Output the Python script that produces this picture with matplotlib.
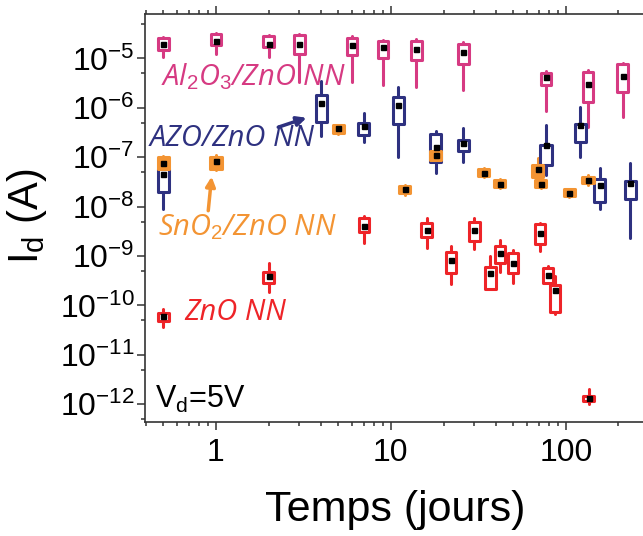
import numpy as np
import matplotlib
matplotlib.use('Agg')
import matplotlib.pyplot as plt
from matplotlib.patches import Rectangle
from matplotlib.ticker import LogLocator, FixedLocator, FuncFormatter, NullFormatter

plt.rcParams['font.family'] = ['Liberation Sans', 'DejaVu Sans']
plt.rcParams['mathtext.fontset'] = 'custom'
plt.rcParams['mathtext.rm'] = 'Liberation Sans'
plt.rcParams['mathtext.it'] = 'Open Sans:italic'

# ── data: time (days) and drain current (A) box statistics ──
t_al = [0.5, 1, 2, 3, 6, 9, 14, 26, 77, 134, 211]
al_wlo = [1.08e-5, 1.26e-5, 1.08e-5, 3.4e-6, 3.4e-6, 2.9e-6, 2.6e-6, 2.3e-6, 8.7e-7, 4.1e-7, 6.6e-7]
al_q1 = [1.47e-5, 1.86e-5, 1.67e-5, 1.26e-5, 1.17e-5, 1.0e-5, 9.2e-6, 7.7e-6, 2.9e-6, 1.32e-6, 2.1e-6]
al_mean = [2.0e-5, 2.27e-5, 2.0e-5, 2.0e-5, 1.92e-5, 1.67e-5, 1.59e-5, 1.36e-5, 4.25e-6, 3.0e-6, 4.4e-6]
al_q3 = [2.54e-5, 3.2e-5, 2.82e-5, 2.97e-5, 2.66e-5, 2.27e-5, 2.27e-5, 2.0e-5, 5.0e-6, 5.4e-6, 7.7e-6]
al_whi = [2.73e-5, 3.3e-5, 2.97e-5, 3.1e-5, 2.82e-5, 2.4e-5, 2.43e-5, 2.11e-5, 5.6e-6, 5.8e-6, 8.1e-6]

t_azo = [0.5, 4, 7, 11, 18, 26, 77, 121, 156, 234]
azo_wlo = [8.8e-9, 2.67e-7, 2.05e-7, 1.02e-7, 4.7e-8, 8.1e-8, 4.35e-8, 1.02e-7, 8.8e-9, 2.27e-9]
azo_q1 = [2.0e-8, 5.2e-7, 2.8e-7, 4.67e-7, 8.1e-8, 1.35e-7, 6.9e-8, 2.05e-7, 1.25e-8, 1.4e-8]
azo_mean = [4.55e-8, 1.26e-6, 4.26e-7, 1.17e-6, 1.63e-7, 1.9e-7, 1.76e-7, 4.47e-7, 2.72e-8, 2.95e-8]
azo_q3 = [5.9e-8, 1.81e-6, 4.97e-7, 1.63e-6, 2.94e-7, 2.22e-7, 1.76e-7, 4.67e-7, 3.56e-8, 3.33e-8]
azo_whi = [8.7e-8, 3.5e-6, 7.7e-7, 2.59e-6, 3.42e-7, 4.0e-7, 4.47e-7, 1.05e-6, 6.2e-8, 7.7e-8]

t_sn = [0.5, 1, 5, 12, 18, 34, 42, 69, 72, 105, 134]
sn_wlo = [5.6e-8, 5.5e-8, 3.0e-7, 1.75e-8, 8.0e-8, 3.9e-8, 2.35e-8, 3.6e-8, 2.35e-8, 1.6e-8, 2.8e-8]
sn_q1 = [5.9e-8, 5.9e-8, 3.12e-7, 1.85e-8, 8.7e-8, 4.14e-8, 2.45e-8, 3.9e-8, 2.45e-8, 1.63e-8, 2.95e-8]
sn_mean = [7.7e-8, 8.3e-8, 3.83e-7, 2.23e-8, 1.1e-7, 4.9e-8, 2.9e-8, 5.66e-8, 2.9e-8, 1.9e-8, 3.43e-8]
sn_q3 = [9.9e-8, 1.02e-7, 4.47e-7, 2.6e-8, 1.33e-7, 5.9e-8, 3.43e-8, 6.9e-8, 3.43e-8, 2.23e-8, 4.0e-8]
sn_whi = [1.04e-7, 1.12e-7, 4.6e-7, 2.75e-8, 1.45e-7, 6.1e-8, 3.6e-8, 9.5e-8, 3.6e-8, 2.3e-8, 4.3e-8]

t_zno = [0.5, 2, 7, 16, 22, 30, 37, 42, 50, 71, 79, 87, 135]
zno_wlo = [3.6e-11, 1.88e-10, 1.8e-9, 1.43e-9, 2.7e-10, 1.36e-9, 2.11e-10, 4.8e-10, 2.8e-10, 1.27e-9, 2.86e-10, 6.7e-11, 1.0e-12]
zno_q1 = [4.9e-11, 2.8e-10, 3.1e-9, 2.38e-9, 4.6e-10, 2.03e-9, 2.11e-10, 7.3e-10, 4.6e-10, 1.74e-9, 2.86e-10, 7.4e-11, 1.17e-12]
zno_mean = [6.1e-11, 3.9e-10, 4.0e-9, 3.35e-9, 8.3e-10, 3.35e-9, 4.6e-10, 1.16e-9, 7.1e-10, 2.95e-9, 4.1e-10, 2.04e-10, 1.35e-12]
zno_q3 = [7.1e-11, 4.8e-10, 5.8e-9, 4.6e-9, 1.22e-9, 4.9e-9, 5.9e-10, 1.59e-9, 1.13e-9, 4.4e-9, 5.6e-10, 2.58e-10, 1.46e-12]
zno_whi = [8.3e-11, 7.1e-10, 6.4e-9, 5.8e-9, 1.61e-9, 5.8e-9, 1.0e-9, 2.1e-9, 1.3e-9, 4.7e-9, 6.2e-10, 3.9e-10, 2.0e-12]

PINK, NAVY, ORANGE, RED = '#d63a82', '#2e3180', '#f39433', '#ee2428'

fig = plt.figure(figsize=(6.43, 5.36), dpi=100)
ax = fig.add_axes([0.2255, 0.2118, 0.785, 0.762])
ax.set_xscale('log'); ax.set_yscale('log')
ax.set_xlim(0.393, 302)
ax.set_ylim(10**-12.37, 10**-4.10)


def boxes(t, wlo, q1, mean, q3, whi, color, face='white', hw=0.029):
    for x, a, b, m, c, d in zip(t, wlo, q1, mean, q3, whi):
        ax.plot([x, x], [a, d], color=color, lw=2.2, solid_capstyle='round', zorder=2)
        x0, x1 = x * 10**-hw, x * 10**hw
        ax.add_patch(Rectangle((x0, b), x1 - x0, c - b, facecolor=face,
                               edgecolor=color, lw=2.2, joinstyle='round', zorder=3))
        ax.plot(x, m, 's', color='k', ms=3.6, zorder=4)


boxes(t_al, al_wlo, al_q1, al_mean, al_q3, al_whi, PINK, hw=0.03)
boxes(t_azo, azo_wlo, azo_q1, azo_mean, azo_q3, azo_whi, NAVY, hw=0.032)
boxes(t_zno, zno_wlo, zno_q1, zno_mean, zno_q3, zno_whi, RED, hw=0.03)
boxes(t_sn, sn_wlo, sn_q1, sn_mean, sn_q3, sn_whi, ORANGE, face=ORANGE, hw=0.032)

# ── axes styling ──
ax.xaxis.set_major_locator(FixedLocator([1, 10, 100]))
ax.xaxis.set_major_formatter(FuncFormatter(lambda v, p: f'{v:g}'))
ax.xaxis.set_minor_locator(LogLocator(base=10, subs=np.arange(2, 10)))
ax.xaxis.set_minor_formatter(NullFormatter())
ax.yaxis.set_major_locator(LogLocator(base=10, numticks=20))
ax.yaxis.set_minor_locator(LogLocator(base=10, subs=[5], numticks=20))
ax.yaxis.set_minor_formatter(NullFormatter())
ax.tick_params(which='both', direction='out', top=True, right=False,
               width=1.1, colors='#333333', labelcolor='k', labelsize=23)
ax.tick_params(which='major', length=5.5)
ax.tick_params(which='minor', length=3)
ax.tick_params(axis='y', pad=2)
ax.tick_params(axis='x', pad=6)
for s in ax.spines.values():
    s.set_linewidth(1.2); s.set_color('#333333')

ax.set_xlabel('Temps (jours)', fontsize=31)
ax.xaxis.set_label_coords(0.495, -0.165)
ax.set_ylabel(r'I$_\mathrm{d}$ (A)', fontsize=30)
ax.yaxis.set_label_coords(-0.19, 0.505)

# ── series labels and arrows ──
lab = dict(transform=ax.transAxes, va='baseline', fontsize=21,
           family='Open Sans', style='italic')
ax.text(0.031, 0.826, r'$\mathit{Al_2O_3}$/ZnO NN', color=PINK, **lab)
ax.text(0.010, 0.677, 'AZO/ZnO NN', color=NAVY, **lab)
ax.text(0.026, 0.459, r'$\mathit{SnO_2}$/ZnO NN', color=ORANGE, **lab)
ax.text(0.077, 0.251, 'ZnO NN', color=RED, **lab)
ax.text(0.020, 0.0355, r'V$_\mathrm{d}$=5V', color='k', fontsize=22,
        transform=ax.transAxes, va='baseline')
ax.annotate('', xy=(0.320, 0.746), xytext=(0.264, 0.723), xycoords='axes fraction',
            arrowprops=dict(arrowstyle='-|>', color=NAVY, lw=2.5, mutation_scale=14,
                            shrinkA=0, shrinkB=0))
ax.annotate('', xy=(0.132, 0.602), xytext=(0.1253, 0.5185), xycoords='axes fraction',
            arrowprops=dict(arrowstyle='-|>', color=ORANGE, lw=2.5, mutation_scale=14,
                            shrinkA=0, shrinkB=0))

plt.savefig('out.png', dpi=100)
